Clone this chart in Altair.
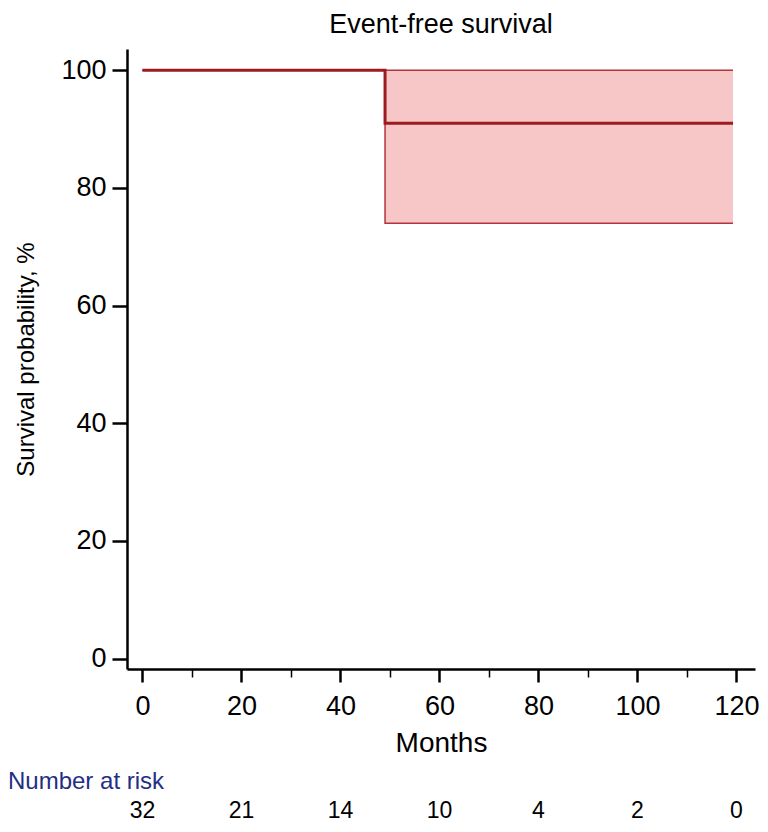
import altair as alt
import pandas as pd

# Kaplan-Meier step data (months, %)
times = [0, 49, 119.3]
surv = [100, 91, 91]
ci_low = [100, 74, 74]
ci_high = [100, 100, 100]

# Number at risk table
risk_times = [0, 20, 40, 60, 80, 100, 120]
risk_counts = [32, 21, 14, 10, 4, 2, 0]

x_ticks = [0, 10, 20, 30, 40, 50, 60, 70, 80, 90, 100, 110, 120]
y_ticks = [0, 20, 40, 60, 80, 100]

FONT = "Liberation Sans"
DARK = "#9b1b21"
CI_LINE = "#b3343a"
FILL = "#f7c6c7"

km = pd.DataFrame({"time": times, "surv": surv, "low": ci_low, "high": ci_high})
ci_long = pd.concat([
    pd.DataFrame({"time": times, "val": ci_low, "bound": "low"}),
    pd.DataFrame({"time": times, "val": ci_high, "bound": "high"}),
])
risk = pd.DataFrame({"time": risk_times, "n": risk_counts})

x_scale = alt.Scale(domain=[-3.13, 123.74], nice=False, zero=False)
y_scale = alt.Scale(domain=[-1.76, 103.6], nice=False, zero=False)

x_axis = alt.Axis(
    values=x_ticks,
    labelExpr="datum.value % 20 === 0 ? datum.label : ''",
    tickSize={"condition": {"test": "datum.value % 20 === 0", "value": 13}, "value": 8},
    tickWidth={"condition": {"test": "datum.value % 20 === 0", "value": 2.5}, "value": 1.5},
    tickColor="black",
    domainColor="black",
    domainWidth=2.5,
    labelFontSize=27,
    labelColor="black",
    labelPadding=11,
    labelFlush=False,
    title="Months",
    titleFontSize=28,
    titleFontWeight="normal",
    titleColor="black",
    titlePadding=10,
    grid=False,
)
y_axis = alt.Axis(
    values=y_ticks,
    tickSize=15,
    tickWidth=2.5,
    tickColor="black",
    domainColor="black",
    domainWidth=2.5,
    labelFontSize=27,
    labelColor="black",
    labelPadding=6,
    title="Survival probability, %",
    titleFontSize=24,
    titleFontWeight="normal",
    titleColor="black",
    titlePadding=22,
    grid=False,
)

area = alt.Chart(km).mark_area(interpolate="step-after", color=FILL, opacity=1).encode(
    x=alt.X("time:Q", scale=x_scale, axis=x_axis),
    y=alt.Y("low:Q", scale=y_scale, axis=y_axis),
    y2="high:Q",
)
ci_lines = alt.Chart(ci_long).mark_line(interpolate="step-after", color=CI_LINE, strokeWidth=1.5).encode(
    x=alt.X("time:Q", scale=x_scale, axis=x_axis),
    y=alt.Y("val:Q", scale=y_scale, axis=y_axis),
    detail="bound:N",
)
surv_line = alt.Chart(km).mark_line(interpolate="step-after", color=DARK, strokeWidth=3).encode(
    x=alt.X("time:Q", scale=x_scale, axis=x_axis),
    y=alt.Y("surv:Q", scale=y_scale, axis=y_axis),
)

main = alt.layer(area, ci_lines, surv_line).properties(
    width=628,
    height=620,
    title=alt.TitleParams(
        "Event-free survival", fontSize=27, fontWeight="normal", color="black",
        anchor="middle", offset=10, font=FONT,
    ),
)

risk_chart = alt.Chart(risk).mark_text(fontSize=23, baseline="alphabetic", color="black", font=FONT).encode(
    x=alt.X("time:Q", scale=x_scale, axis=None),
    y=alt.value(22),
    text="n:Q",
).properties(
    width=628,
    height=22,
    title=alt.TitleParams(
        "Number at risk", fontSize=24, fontWeight="normal", color="#1f2f85",
        anchor="start", frame="group", dx=-119, offset=2, font=FONT,
    ),
)

chart = alt.vconcat(main, risk_chart, spacing=13).properties(
    padding={"top": 3, "bottom": 0, "left": 0, "right": -1},
).configure(font=FONT).configure_view(strokeWidth=0)

chart.save("out.html", embed_options={"renderer": "svg", "actions": False})
